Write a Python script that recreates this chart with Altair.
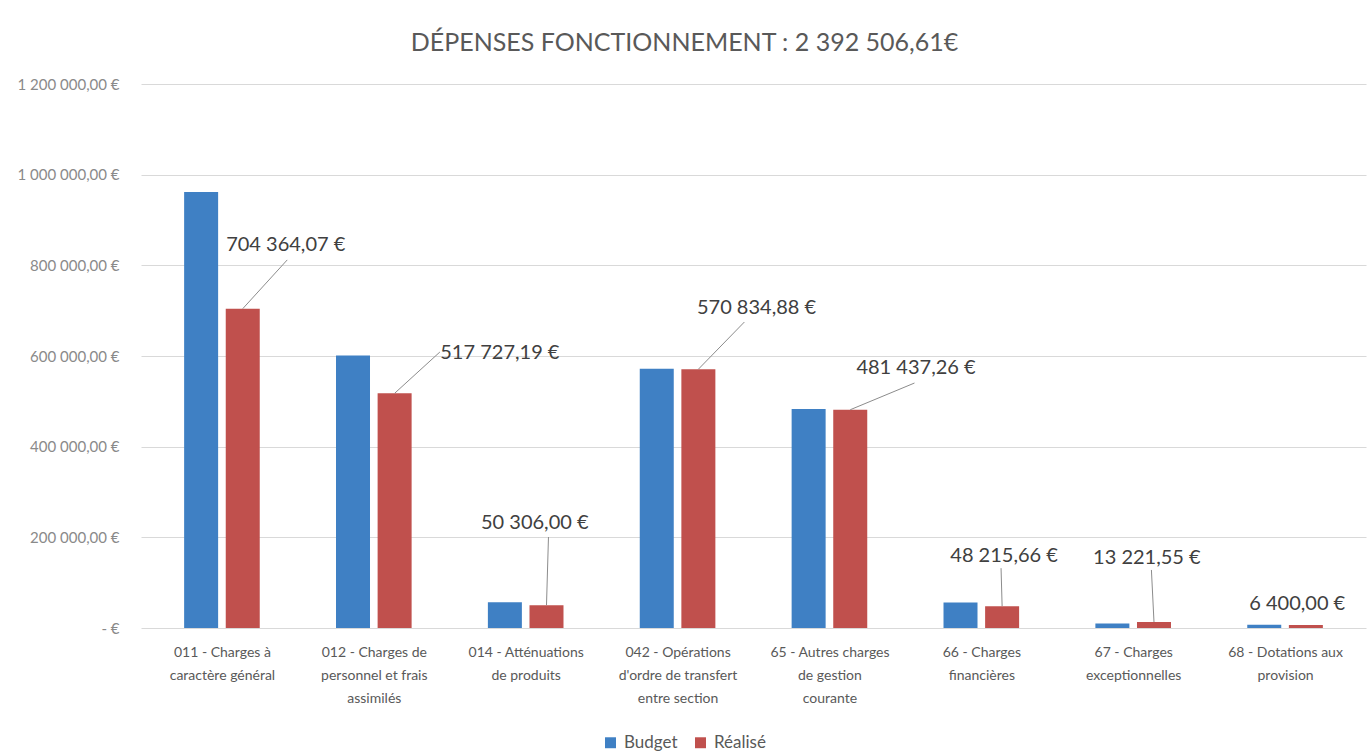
import json
import altair as alt
import pandas as pd

# ---- data ----
categories = [
    "011 - Charges à|caractère général",
    "012 - Charges de|personnel et frais|assimilés",
    "014 - Atténuations|de produits",
    "042 - Opérations|d'ordre de transfert|entre section",
    "65 - Autres charges|de gestion|courante",
    "66 - Charges|financières",
    "67 - Charges|exceptionnelles",
    "68 - Dotations aux|provision",
]
budget = [962000, 601000, 57000, 572000, 483000, 56000, 10000, 7000]
realise = [704364.07, 517727.19, 50306.00, 570834.88, 481437.26, 48215.66, 13221.55, 6400.00]
series = ["Budget", "Réalisé"]
y_ticks = [0, 200000, 400000, 600000, 800000, 1000000, 1200000]

# ---- annotation placement (layout) ----
label_x = [0.42, 1.83, 2.06, 3.52, 4.57, 5.15, 6.09, 7.08]
label_y = [845000, 606600, 231600, 705900, 573500, 158800, 154400, 52900]
leader_x2 = [0.43, 1.435, 2.15, 3.44, 4.56, 5.13, 6.12, 7.14]
leader_y2 = [812000, 608800, 200700, 675000, 540400, 132000, 128000, 6400]
offset = 0.137


def fr(v):
    return f"{v:,.2f}".replace(",", " ").replace(".", ",") + " €"


rows = []
for i in range(len(categories)):
    rows.append({"pos": i - offset, "value": budget[i], "serie": series[0]})
    rows.append({"pos": i + offset, "value": realise[i], "serie": series[1]})
bars_df = pd.DataFrame(rows)

labels_df = pd.DataFrame({"x": label_x, "y": label_y, "text": [fr(v) for v in realise]})
leader_df = pd.DataFrame({
    "x": [i + offset for i in range(len(categories))],
    "y": realise,
    "x2": leader_x2,
    "y2": leader_y2,
}).iloc[:7]

FONT = "Lato"
xscale = alt.Scale(domain=[-0.5, 7.5], nice=False, zero=False)
yscale = alt.Scale(domain=[0, 1200000], nice=False)

x_label_expr = "split(" + json.dumps(categories, ensure_ascii=False) + "[datum.value], '|')"
y_label_expr = ("datum.value == 0 ? '-     €' : replace(replace(format(datum.value, ',.2f'), "
                "regexp(',', 'g'), ' '), '.', ',') + ' €'")

bars = alt.Chart(bars_df).mark_bar(size=34).encode(
    x=alt.X("pos:Q", scale=xscale, title=None,
            axis=alt.Axis(values=list(range(len(categories))), labelExpr=x_label_expr,
                          grid=False, ticks=False, domain=False, labelAngle=0,
                          labelFont=FONT, labelFontSize=14, labelColor="#595959",
                          labelLineHeight=23, labelPadding=17, labelOverlap=False,
                          labelLimit=300, labelBaseline="top")),
    y=alt.Y("value:Q", scale=yscale, title=None,
            axis=alt.Axis(values=y_ticks, labelExpr=y_label_expr, ticks=False, domain=False,
                          grid=True, gridColor="#d9d9d9", gridWidth=1,
                          labelFont=FONT, labelFontSize=15, labelColor="#8a8a8a",
                          labelPadding=22)),
    color=alt.Color("serie:N", scale=alt.Scale(domain=series, range=["#3F80C4", "#C0504D"]),
                    legend=alt.Legend(title=None, orient="none", direction="horizontal",
                                      legendX=461, legendY=650, symbolType="square",
                                      symbolSize=120, symbolStrokeWidth=0,
                                      labelFont=FONT, labelFontSize=17, labelColor="#595959",
                                      columnPadding=14, labelOffset=5)),
)

leaders = alt.Chart(leader_df).mark_rule(color="#8c8c8c", strokeWidth=1).encode(
    x=alt.X("x:Q", scale=xscale), y=alt.Y("y:Q", scale=yscale),
    x2="x2:Q", y2="y2:Q",
)

texts = alt.Chart(labels_df).mark_text(font=FONT, fontSize=20, color="#404040",
                                       align="center", baseline="middle").encode(
    x=alt.X("x:Q", scale=xscale), y=alt.Y("y:Q", scale=yscale), text="text:N",
)

chart = alt.layer(bars, leaders, texts).properties(
    width=1225, height=544,
    padding={"left": 141, "top": 84, "right": 2, "bottom": 125},
    autosize=alt.AutoSizeParams(type="none"),
    title=alt.TitleParams("DÉPENSES FONCTIONNEMENT : 2 392 506,61€", font=FONT, fontSize=25,
                          fontWeight="normal", color="#595959", anchor="middle", dx=-69,
                          offset=21),
).configure(background="white").configure_view(stroke=None)

chart.save("out.html", embed_options={"renderer": "svg", "actions": False})
